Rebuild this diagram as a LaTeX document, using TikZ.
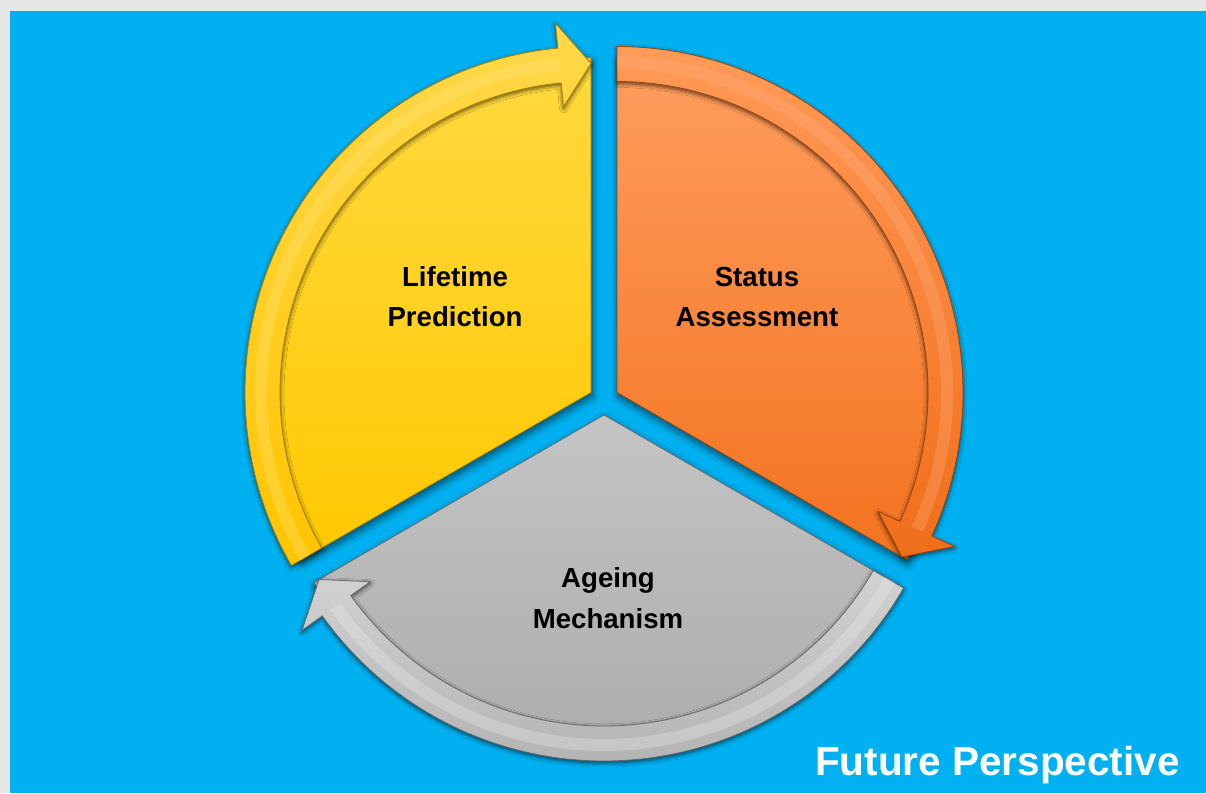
\documentclass[tikz,border=0pt]{standalone}
\usepackage{fontspec}
\setmainfont{Liberation Sans}
\usetikzlibrary{shadows.blur}

\definecolor{bg}{HTML}{00B0F0}
\definecolor{frame}{HTML}{E6E6E6}
% yellow
\definecolor{Ytop}{HTML}{FFD93F}
\definecolor{Ybot}{HTML}{FFC800}
\definecolor{YBtop}{HTML}{FFD84A}
\definecolor{YBbot}{HTML}{FFC400}
\definecolor{Yedge}{HTML}{A87E00}
\definecolor{Yhl}{HTML}{FFE680}
% orange
\definecolor{Otop}{HTML}{FF9D5E}
\definecolor{Obot}{HTML}{F3731F}
\definecolor{OBtop}{HTML}{FF9A58}
\definecolor{OBbot}{HTML}{F06E1A}
\definecolor{Oedge}{HTML}{9A420A}
\definecolor{Ohl}{HTML}{FFB080}
% gray
\definecolor{Gtop}{HTML}{C4C4C4}
\definecolor{Gbot}{HTML}{A9A9A9}
\definecolor{GBtop}{HTML}{D2D2D2}
\definecolor{GBbot}{HTML}{B4B4B4}
\definecolor{Gedge}{HTML}{666666}
\definecolor{Ghl}{HTML}{EEEEEE}

\tikzset{
  shd/.style={blur shadow={shadow xshift=1pt, shadow yshift=-4pt, shadow blur radius=7pt, shadow opacity=60, shadow blur steps=10}},
  bshd/.style={blur shadow={shadow xshift=0pt, shadow yshift=-2pt, shadow blur radius=4pt, shadow opacity=65, shadow blur steps=8}},
  lbl/.style={font=\fontsize{27.6}{33}\selectfont\bfseries, text=black, inner sep=0pt, anchor=base},
  title/.style={font=\fontsize{40.5}{48}\selectfont\bfseries, text=white, inner sep=0pt, anchor=base east}
}

% #1,#2 vertex; #3 tail angle; #4 head angle; #5 colour prefix
\newcommand\drawseg[5]{%
\begin{scope}[shift={(#1,#2)}]
  \path[shd, top color=#5top, bottom color=#5bot, draw=#5edge, line width=0.7pt]
    (0,0) -- (#3:335) arc[start angle=#3, end angle=#4, radius=335] -- cycle;
  \path[bshd, top color=#5Btop, bottom color=#5Bbot, draw=#5edge, line width=0.8pt, line join=miter]
    (#3:346) arc[start angle=#3, end angle={#4+5.5}, radius=346]
    -- ({#4+5.5}:371) -- (#4:329) -- ({#4+5.5}:287) -- ({#4+5.5}:311)
    arc[start angle={#4+5.5}, end angle=#3, radius=311] -- cycle;
  \draw[#5hl, line width=12pt, opacity=0.3]
    (#3:330) arc[start angle=#3, end angle={#4+5.5}, radius=330];
\end{scope}}

\begin{document}
\begin{tikzpicture}[x=1pt,y=1pt]
\useasboundingbox (0,0) rectangle (1206,793);
\fill[frame] (0,0) rectangle (1206,793);
\fill[bg] (10,0) rectangle (1206,782);

\drawseg{591}{400.5}{210}{90}{Y}
\drawseg{617}{400.5}{90}{-30}{O}
\drawseg{604}{378}{-30}{-150}{G}

\node[lbl] (lt1) at (455,506) {Lifetime};
\node[lbl] (lt2) at (455,466) {Prediction};
\node[lbl] (st1) at (757,506) {Status};
\node[lbl] (st2) at (757,466) {Assessment};
\node[lbl] (ag1) at (608,206) {Ageing};
\node[lbl] (ag2) at (608,165) {Mechanism};
\node[title] (fp) at (1180,18) {Future Perspective};
\end{tikzpicture}
\end{document}
